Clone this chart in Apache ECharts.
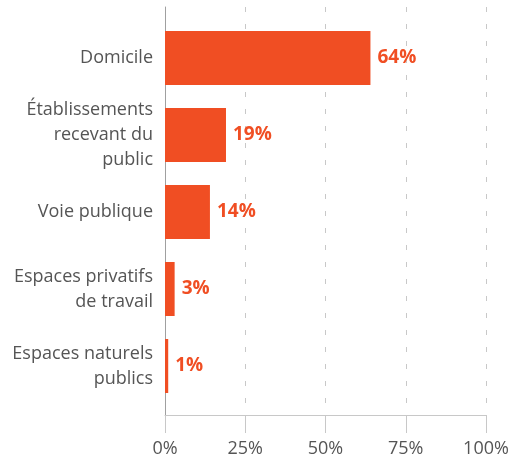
<!DOCTYPE html>
<html><head><meta charset="utf-8">
<script src="https://cdn.jsdelivr.net/npm/echarts@6/dist/echarts.min.js"></script>
<style>html,body{margin:0;padding:0;background:#fff}#c{width:510px;height:461px}</style>
</head><body><div id="c"></div>
<script>
const categories = ["Domicile", "Établissements\nrecevant du\npublic", "Voie publique", "Espaces privatifs\nde travail", "Espaces naturels\npublics"];
const values = [64, 19, 14, 3, 1];
const xTicks = [0, 25, 50, 75, 100];

const ORANGE = '#F04E23';
const chart = echarts.init(document.getElementById('c'), null, {renderer: 'canvas'});
chart.setOption({
  animation: false,
  grid: [
    {left: 165, width: 321, top: 19.5, height: 385, outerBoundsMode: 'none', containLabel: false},
    {left: 165, width: 321, top: 7, height: 408, outerBoundsMode: 'none', containLabel: false}
  ],
  xAxis: [
    {gridIndex: 0, type: 'value', min: 0, max: 100, show: false},
    {gridIndex: 1, type: 'value', min: xTicks[0], max: xTicks[xTicks.length-1], interval: 25,
      axisLine: {show: true, lineStyle: {color: '#c8c8c8', width: 1}},
      axisTick: {show: true, length: 18, lineStyle: {color: '#c8c8c8'}},
      axisLabel: {margin: 25, color: '#555', fontSize: 18, fontFamily: 'Open Sans', formatter: '{value}%'},
      splitLine: {show: true, showMinLine: false, lineStyle: {color: '#c8c8c8', type: [5, 12], width: 1}}
    }
  ],
  yAxis: [
    {gridIndex: 0, type: 'category', data: categories, inverse: true,
      axisLine: {show: false}, axisTick: {show: false},
      axisLabel: {margin: 12, color: '#555', fontSize: 18, lineHeight: 25, fontFamily: 'Open Sans', align: 'right'}
    },
    {gridIndex: 1, type: 'value', min: 0, max: 1, axisLabel: {show: false}, axisTick: {show: false}, splitLine: {show: false},
      axisLine: {show: true, lineStyle: {color: '#a0a0a0', width: 1}}}
  ],
  series: [{
    type: 'bar', xAxisIndex: 0, yAxisIndex: 0, data: values, barWidth: 54,
    itemStyle: {color: ORANGE},
    label: {show: true, position: 'right', distance: 7, formatter: '{c}%', color: ORANGE,
      fontSize: 19, fontWeight: 'bold', fontFamily: 'Open Sans'}
  }]
});
</script></body></html>
